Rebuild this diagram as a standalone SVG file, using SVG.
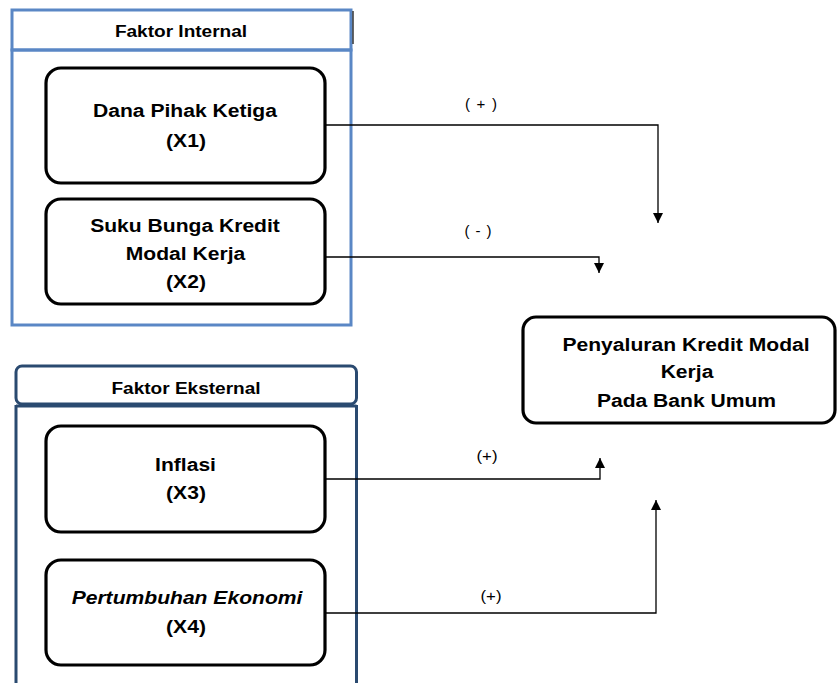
<svg xmlns="http://www.w3.org/2000/svg" width="837" height="683" viewBox="0 0 837 683">
<defs>
<style>
.int{fill:none;stroke:#5A87C5;stroke-width:3}
.ext{fill:none;stroke:#2A4A70;stroke-width:3}
.box{fill:#fff;stroke:#000;stroke-width:3.2}
.t{font-family:"Liberation Sans",Arial,sans-serif;font-weight:bold;font-size:18.5px;fill:#000;text-anchor:middle}
.h{font-family:"Liberation Sans",Arial,sans-serif;font-weight:bold;font-size:16px;fill:#000;text-anchor:middle}
.lbl{font-family:"Liberation Sans",Arial,sans-serif;font-size:15px;fill:#000;text-anchor:middle}
.c{fill:none;stroke:#000;stroke-width:1.3}
</style>
<marker id="arr" viewBox="0 0 10 10" markerWidth="10" markerHeight="10" markerUnits="userSpaceOnUse" refX="10" refY="5" orient="auto">
<path d="M0,0 L10,5 L0,10 z" fill="#000"/>
</marker>
</defs>
<rect width="837" height="683" fill="#fff"/>

<g id="internal-group">
<rect class="int" x="12" y="10" width="339" height="40"/>
<rect class="int" x="12" y="50" width="339" height="275"/>
<line x1="353" y1="11" x2="353" y2="44" stroke="#333" stroke-width="1.5"/>
<text class="h" transform="translate(181,37) scale(1.19,1)">Faktor Internal</text>
</g>

<g id="external-group">
<rect class="ext" x="16" y="366" width="340.5" height="38" rx="6"/>
<path class="ext" d="M16,405 V690 M356.5,405 V690 M16,406 H356.5"/>
<text class="h" transform="translate(186,394) scale(1.19,1)">Faktor Eksternal</text>
</g>

<g id="x1">
<rect class="box" x="46" y="68" width="279" height="115" rx="15"/>
<text class="t" transform="translate(185,117) scale(1.14,1)">Dana Pihak Ketiga</text>
<text class="t" transform="translate(186,147) scale(1.14,1)">(X1)</text>
</g>

<g id="x2">
<rect class="box" x="46" y="199" width="279" height="105" rx="15"/>
<text class="t" transform="translate(185,232) scale(1.14,1)">Suku Bunga Kredit</text>
<text class="t" transform="translate(185.5,260) scale(1.14,1)">Modal Kerja</text>
<text class="t" transform="translate(186,288) scale(1.14,1)">(X2)</text>
</g>

<g id="x3">
<rect class="box" x="46" y="426" width="279" height="106" rx="15"/>
<text class="t" transform="translate(185.5,471) scale(1.14,1)">Inflasi</text>
<text class="t" transform="translate(186,499) scale(1.14,1)">(X3)</text>
</g>

<g id="x4">
<rect class="box" x="46" y="560" width="279" height="105" rx="15"/>
<text class="t" font-style="italic" transform="translate(187,604) scale(1.14,1)">Pertumbuhan Ekonomi</text>
<text class="t" transform="translate(186,633) scale(1.14,1)">(X4)</text>
</g>

<g id="y">
<rect class="box" x="523" y="317" width="312" height="106" rx="13"/>
<text class="t" transform="translate(686,351) scale(1.14,1)">Penyaluran Kredit Modal</text>
<text class="t" transform="translate(687,378) scale(1.14,1)">Kerja</text>
<text class="t" transform="translate(686.5,407) scale(1.14,1)">Pada Bank Umum</text>
</g>

<g id="connectors">
<path class="c" d="M325,125 H658 V223" marker-end="url(#arr)"/>
<path class="c" d="M325,257 H599 V273" marker-end="url(#arr)"/>
<path class="c" d="M325,479 H600 V458" marker-end="url(#arr)"/>
<path class="c" d="M325,613 H656 V500" marker-end="url(#arr)"/>
<text class="lbl" x="481" y="109" textLength="32" lengthAdjust="spacing">( + )</text>
<text class="lbl" x="478" y="236" textLength="27" lengthAdjust="spacing">( - )</text>
<text class="lbl" x="487" y="461" textLength="21" lengthAdjust="spacingAndGlyphs">(+)</text>
<text class="lbl" x="491" y="601" textLength="21" lengthAdjust="spacingAndGlyphs">(+)</text>
</g>
</svg>
